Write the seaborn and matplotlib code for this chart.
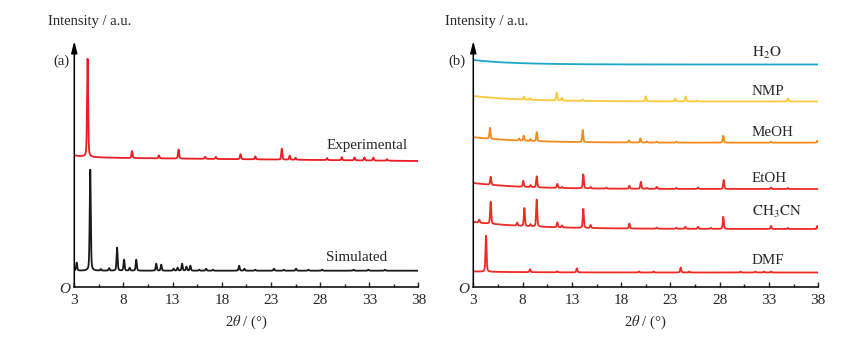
import numpy as np
import pandas as pd
import matplotlib
matplotlib.use("Agg")
import matplotlib.pyplot as plt
import seaborn as sns

# ---------------- data ----------------
two_theta_range = [3, 38]
xticks = [3, 8, 13, 18, 23, 28, 33, 38]

# Panel (a)
exp_pos = [4.35, 8.87, 11.6, 13.6, 16.3, 17.4, 19.9, 21.4, 24.1, 24.9, 25.5, 28.7, 30.2, 31.5, 32.5, 33.4, 34.8]
exp_int = [98, 7, 3, 9, 2, 2, 5, 3, 11, 4, 2, 2, 3, 3, 3, 3, 1.5]
exp_base = [129.5, -0.1, 2.0, 1.5]     # offset, slope, start bump, decay

sim_pos = [3.24, 4.62, 5.7, 6.54, 7.35, 8.06, 8.63, 9.3, 11.33, 11.84, 13.1, 13.5, 13.96, 14.4, 14.8,
           15.7, 16.4, 17.1, 19.76, 20.3, 21.4, 23.3, 24.3, 25.55, 26.8, 28.2, 31.4, 32.9, 34.6]
sim_int = [8, 101, 1.5, 2.5, 23, 11, 3, 11, 7, 6, 2, 3, 7, 4, 5,
           1, 2, 1, 5, 2, 1, 2, 1, 2, 1, 1, 1, 1, 1]
sim_base = [16.3, 0.0, 0.0, 1.0]

# Panel (b)
h2o_pos, h2o_int = [], []
h2o_base = [222.5, 0.0, 4.5, 4.0]

nmp_pos = [8.14, 8.75, 11.46, 12.0, 14.1, 20.5, 23.5, 24.55, 25.7, 34.9]
nmp_int = [3, 1.5, 8, 3, 1.5, 5, 3, 5, 1, 3]
nmp_base = [185.5, 0.0, 5.5, 5.0]

meoh_pos = [4.69, 7.64, 8.11, 8.8, 9.43, 14.1, 18.8, 19.95, 20.6, 21.6, 23.6, 28.36, 33.2, 37.9]
meoh_int = [11, 2, 5, 2, 9, 12, 2, 4, 1, 1, 1, 7, 1, 2]
meoh_base = [144.3, 0.0, 5.5, 5.0]

etoh_pos = [4.76, 8.07, 8.8, 9.43, 11.52, 12.0, 14.16, 14.9, 16.5, 18.83, 20.0, 20.6, 21.6, 23.6, 25.8, 28.4, 33.2, 34.9]
etoh_int = [8, 6, 2, 11, 4, 1, 14, 1.5, 1, 3, 7, 1, 2, 1, 1.5, 9, 1.5, 1]
etoh_base = [98.0, 0.0, 6.0, 5.0]

mecn_pos = [3.6, 4.76, 7.45, 8.18, 8.8, 9.43, 11.52, 12.0, 14.16, 14.9, 18.83, 21.6, 23.6, 24.5, 25.8,
            27.1, 28.36, 33.2, 34.9, 37.9]
mecn_int = [3, 22, 3, 18, 2, 27, 5, 2, 19, 3, 5, 1, 1, 2, 2,
            1, 12, 3, 1, 3]
mecn_base = [58.0, 0.0, 7.0, 6.0]

dmf_pos = [4.29, 8.75, 11.5, 13.5, 19.8, 21.3, 24.04, 24.9, 30.1, 31.6, 32.5, 33.2]
dmf_int = [36, 3, 1, 4, 1, 1, 5, 1, 1, 1, 1, 1]
dmf_base = [14.5, 0.0, 1.0, 5.0]

labels_a = ["Experimental", "Simulated"]
labels_b = ["$\\mathrm{H_2O}$", "NMP", "MeOH", "EtOH", "$\\mathrm{CH_3CN}$", "DMF"]

# ---------------- helpers ----------------
x = np.linspace(two_theta_range[0], two_theta_range[1], 3501)


def pattern(pos, inten, base, fwhm=0.13, eta=0.4):
    off, slope, bump, tau = base
    y = off + slope * (x - 3) + bump * np.exp(-(x - 3) / tau)
    for p, h in zip(pos, inten):
        g = np.exp(-4 * np.log(2) * ((x - p) / fwhm) ** 2)
        lz = 1.0 / (1 + 4 * ((x - p) / fwhm) ** 2)
        y = y + h * ((1 - eta) * g + eta * lz)
    return y


# ---------------- style ----------------
sns.set_style("white")
plt.rcParams["font.family"] = ["Liberation Serif", "DejaVu Serif"]
plt.rcParams["mathtext.fontset"] = "stix"
FS = 10.5

fig = plt.figure(figsize=(8.45, 3.39), dpi=100)
W, H = 845, 339
ax1 = fig.add_axes([74.3 / W, 52 / H, (418.5 - 74.3) / W, 246 / H])
ax2 = fig.add_axes([473.3 / W, 52 / H, 345 / W, 246 / H])

red = "#ee2a24"
series_a = [
    (exp_pos, exp_int, exp_base, "#ec1c24", labels_a[0], 141),
    (sim_pos, sim_int, sim_base, "#1a1a1a", labels_a[1], 29.7),
]
series_b = [
    (h2o_pos, h2o_int, h2o_base, "#1ba6cc", labels_b[0], 234.3),
    (nmp_pos, nmp_int, nmp_base, "#fbc93c", labels_b[1], 195.3),
    (meoh_pos, meoh_int, meoh_base, "#f48a1e", labels_b[2], 154.3),
    (etoh_pos, etoh_int, etoh_base, red, labels_b[3], 108.7),
    (mecn_pos, mecn_int, mecn_base, red, labels_b[4], 75.0),
    (dmf_pos, dmf_int, dmf_base, red, labels_b[5], 27.0),
]

for ax, series, lx in [(ax1, series_a, 28.6), (ax2, series_b, 31.25)]:
    for pos, inten, base, col, lab, ly in series:
        df = pd.DataFrame({"2theta": x, "I": pattern(pos, inten, base)})
        sns.lineplot(data=df, x="2theta", y="I", ax=ax, color=col, lw=1.3, estimator=None, sort=False)
        ax.text(lx, ly, lab, fontsize=FS + 0.3, ha="left", va="center")

    ax.set_xlim(two_theta_range)
    ax.set_ylim(0, 246)
    ax.set_yticks([])
    ax.set_xticks(xticks)
    ax.set_xticks(np.arange(5.5, 38, 5), minor=True)
    ax.tick_params(axis="x", which="major", direction="in", length=3.5, width=1.0, labelsize=FS + 0.5, pad=5)
    ax.tick_params(axis="x", which="minor", direction="in", length=2.0, width=1.0)
    ax.tick_params(axis="x", which="both", bottom=True)
    for s in ["top", "right", "left"]:
        ax.spines[s].set_visible(False)
    ax.spines["bottom"].set_linewidth(1.1)
    ax.spines["bottom"].set_color("black")
    ax.set_xlabel("2$\\theta$ / (°)", fontsize=FS, labelpad=5)
    ax.set_ylabel("")
    ax.annotate("", xy=(0, 1.0), xycoords="axes fraction", xytext=(0, 0), textcoords="axes fraction",
                arrowprops=dict(arrowstyle="-|>,head_length=0.7,head_width=0.18", lw=1.1, color="black",
                                shrinkA=0, shrinkB=0))

fig.text(48 / W, 1 - 22 / H, "Intensity / a.u.", fontsize=FS, ha="left", va="center")
fig.text(445 / W, 1 - 22 / H, "Intensity / a.u.", fontsize=FS, ha="left", va="center")
fig.text(53 / W, 1 - 61.7 / H, "(a)", fontsize=FS, ha="left", va="center")
fig.text(448 / W, 1 - 61.7 / H, "(b)", fontsize=FS, ha="left", va="center")
fig.text(70.5 / W, 1 - 289.5 / H, "O", fontsize=FS + 0.5, ha="right", va="center", style="italic")
fig.text(469.5 / W, 1 - 289.5 / H, "O", fontsize=FS + 0.5, ha="right", va="center", style="italic")

fig.savefig("out.png", dpi=100)
